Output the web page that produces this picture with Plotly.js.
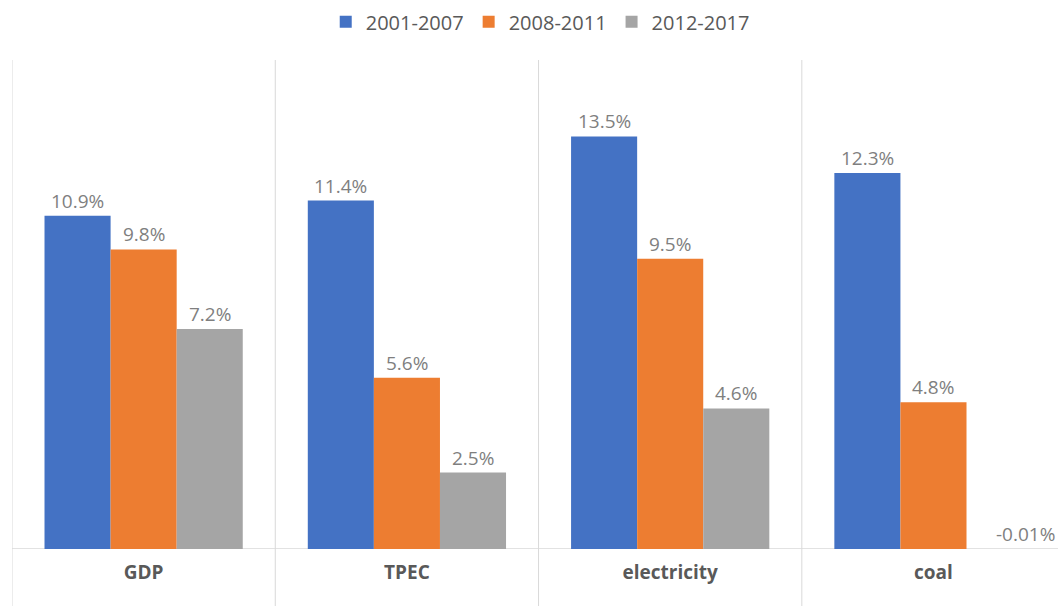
<!DOCTYPE html>
<html>
<head>
<meta charset="utf-8">
<script src="https://cdn.plot.ly/plotly-3.0.1.min.js"></script>
<style>
  html, body { margin: 0; padding: 0; background: #fff; }
  #chart { width: 1058px; height: 606px; }
</style>
</head>
<body>
<div id="chart"></div>
<script>
// Average annual growth rates by period
const categories = ['GDP', 'TPEC', 'electricity', 'coal'];
const periods = ['2001-2007', '2008-2011', '2012-2017'];
const growth2001_2007 = [10.9, 11.4, 13.5, 12.3];
const growth2008_2011 = [9.8, 5.6, 9.5, 4.8];
const growth2012_2017 = [7.2, 2.5, 4.6, -0.01];

const seriesValues = [growth2001_2007, growth2008_2011, growth2012_2017];
const colors = ['#4472C4', '#ED7D31', '#A5A5A5'];

const FONT = '"Open Sans", "Noto Sans", sans-serif';
const bargap = 0.247;
const barW = (1 - bargap) / periods.length;

const traces = seriesValues.map((vals, i) => ({
  type: 'bar',
  name: periods[i],
  x: categories,
  y: vals,
  marker: { color: colors[i], line: { width: 0 } },
  hoverinfo: 'x+y+name'
}));

// value labels above each bar
function fmt(v) {
  return (Math.abs(v) < 0.1 ? v.toFixed(2) : v.toFixed(1)) + '%';
}
const annotations = [];
seriesValues.forEach((vals, si) => {
  vals.forEach((v, ci) => {
    const xpos = ci + (si - (periods.length - 1) / 2) * barW;
    annotations.push({
      xref: 'x', yref: 'y',
      x: xpos, y: Math.max(v, 0),
      text: fmt(v),
      showarrow: false,
      yanchor: 'bottom',
      xanchor: 'center',
      xshift: v < 0 ? 26 : 0,
      font: { family: FONT, size: 19, color: '#7F7F7F' }
    });
  });
});

// separators between category groups, running down through the label band
const shapes = [];
for (let k = 0; k <= categories.length; k++) {
  shapes.push({
    type: 'line', xref: 'x', yref: 'paper',
    x0: k - 0.5, x1: k - 0.5, y0: -0.2, y1: 1,
    line: { color: '#D9D9D9', width: 1 },
    layer: 'below'
  });
}
// baseline
shapes.push({
  type: 'line', xref: 'paper', yref: 'y',
  x0: 0, x1: 1, y0: 0, y1: 0,
  line: { color: '#D9D9D9', width: 1.3 },
  layer: 'below'
});

const layout = {
  width: 1058,
  height: 606,
  margin: { l: 12, r: 0, t: 60, b: 57, autoexpand: false },
  paper_bgcolor: '#FFFFFF',
  plot_bgcolor: '#FFFFFF',
  barmode: 'group',
  bargap: bargap,
  bargroupgap: 0,
  font: { family: FONT, color: '#595959' },
  showlegend: true,
  legend: {
    orientation: 'h',
    x: 0.505, xanchor: 'center',
    y: 1.078, yanchor: 'middle',
    font: { family: FONT, size: 20, color: '#595959' },
    itemwidth: 30,
    traceorder: 'normal'
  },
  xaxis: {
    type: 'category',
    range: [-0.5, 3.473],
    showgrid: false,
    zeroline: false,
    showline: false,
    ticks: '',
    ticklabelstandoff: 10,
    tickfont: { family: FONT, size: 19, color: '#595959', weight: 'bold' },
    fixedrange: true
  },
  yaxis: {
    range: [0, 16],
    showgrid: false,
    zeroline: false,
    showline: false,
    showticklabels: false,
    ticks: '',
    fixedrange: true
  },
  shapes: shapes,
  annotations: annotations
};

Plotly.newPlot('chart', traces, layout, { displayModeBar: false, staticPlot: true });
</script>
</body>
</html>
